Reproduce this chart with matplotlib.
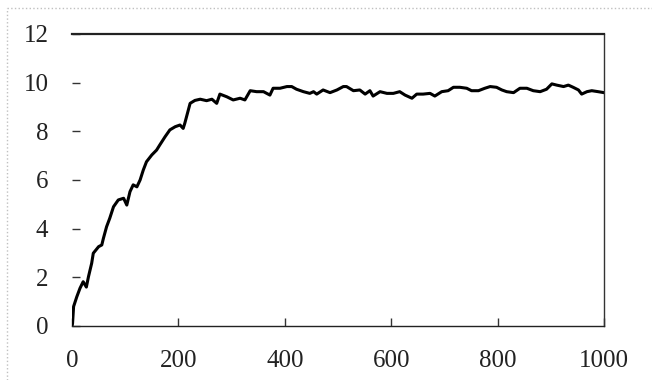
import matplotlib.pyplot as plt
from matplotlib.lines import Line2D

# values
steps = [0, 1, 3, 9, 15, 21, 27, 31, 37, 40, 50, 56, 59, 65, 71, 78, 87, 97, 103,
         109, 115, 122, 128, 134, 140, 150, 159, 165, 175, 184, 194, 203, 209, 212,
         217, 222, 231, 241, 253, 263, 272, 278, 291, 303, 316, 325, 335, 347, 360,
         372, 378, 391, 404, 413, 422, 435, 447, 454, 460, 472, 485, 498, 510, 516,
         529, 541, 551, 560, 566, 579, 592, 604, 616, 626, 639, 648, 660, 673, 682,
         695, 707, 717, 729, 742, 751, 764, 776, 786, 798, 808, 817, 830, 842, 855,
         867, 880, 892, 902, 911, 924, 933, 942, 952, 958, 968, 977, 989, 1000]
values = [0.0, 0.1, 0.8, 1.2, 1.55, 1.82, 1.6, 2.03, 2.58, 2.99, 3.26, 3.33, 3.6,
          4.08, 4.43, 4.9, 5.18, 5.25, 4.97, 5.52, 5.8, 5.72, 6.0, 6.41, 6.75, 7.03,
          7.23, 7.44, 7.78, 8.06, 8.19, 8.26, 8.12, 8.33, 8.74, 9.15, 9.27, 9.32,
          9.26, 9.32, 9.15, 9.53, 9.42, 9.29, 9.36, 9.29, 9.67, 9.63, 9.63, 9.49,
          9.77, 9.77, 9.84, 9.84, 9.73, 9.63, 9.56, 9.63, 9.53, 9.70, 9.59, 9.70,
          9.84, 9.84, 9.67, 9.70, 9.53, 9.67, 9.45, 9.63, 9.56, 9.56, 9.63, 9.49,
          9.36, 9.53, 9.53, 9.56, 9.45, 9.63, 9.67, 9.81, 9.81, 9.77, 9.67, 9.67,
          9.77, 9.84, 9.81, 9.70, 9.63, 9.59, 9.77, 9.77, 9.67, 9.63, 9.73, 9.95,
          9.90, 9.84, 9.90, 9.81, 9.70, 9.53, 9.63, 9.67, 9.63, 9.59]

plt.rcParams['font.family'] = 'serif'
plt.rcParams['font.serif'] = ['Liberation Serif']

fig = plt.figure(figsize=(6.52, 3.8), dpi=100)
ax = fig.add_axes([72 / 652, 54 / 380, 532 / 652, 292 / 380])

ax.plot(steps, values, color='black', linewidth=2.2)

ax.set_xlim(0, 1000)
ax.set_ylim(0, 12)
ax.set_xticks([0, 200, 400, 600, 800, 1000])
ax.set_yticks([0, 2, 4, 6, 8, 10, 12])

ax.spines['left'].set_visible(False)
ax.spines['top'].set_linewidth(1.6)
ax.spines['top'].set_color('#222222')
ax.spines['right'].set_linewidth(1.0)
ax.spines['right'].set_color('#333333')
ax.spines['bottom'].set_linewidth(1.0)
ax.spines['bottom'].set_color('#222222')

ax.tick_params(axis='both', direction='in', length=6, width=1.0,
               color='#333333', labelsize=18, labelcolor='#222222')
ax.tick_params(axis='y', pad=17)
ax.tick_params(axis='x', pad=17)
for lab in ax.get_xticklabels() + ax.get_yticklabels():
    lab.set_fontfamily('Liberation Serif')

# dotted frame around the chart area (only top and left visible)
fx = 6.5 / 652
fy = 1 - 7.5 / 380
fig.add_artist(Line2D([fx, fx], [0, fy], transform=fig.transFigure,
                      color='#c0c0c0', linewidth=1, linestyle=':'))
fig.add_artist(Line2D([fx, 1], [fy, fy], transform=fig.transFigure,
                      color='#c0c0c0', linewidth=1, linestyle=':'))

fig.savefig('out.png', dpi=100)
